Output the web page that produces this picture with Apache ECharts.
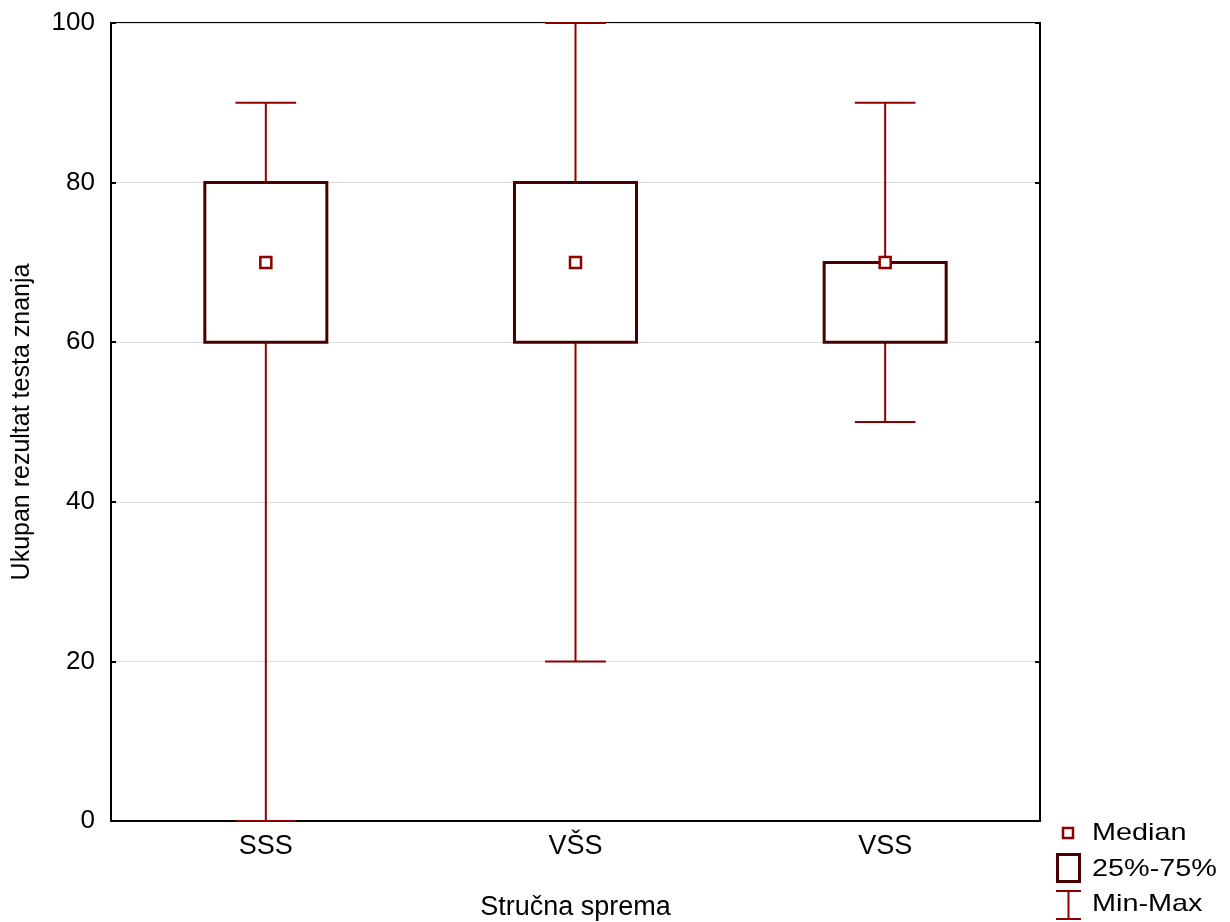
<!DOCTYPE html>
<html><head><meta charset="utf-8">
<script src="https://cdn.jsdelivr.net/npm/echarts@6/dist/echarts.min.js"></script>
<style>html,body{margin:0;padding:0;background:#fff}#c{width:1230px;height:922px}</style>
</head><body><div id="c"></div>
<script>
const categories = ['SSS', 'VŠS', 'VSS'];
const mins = [0, 20, 50];
const q1s = [60, 60, 60];
const medians = [70, 70, 70];
const q3s = [80, 80, 70];
const maxs = [90, 100, 90];
const yTicks = [0, 20, 40, 60, 80, 100];

const FONT = '"Liberation Sans", Arial, sans-serif';
const WHISK = '#8B0000';
const BOX = '#4A0000';

const data = categories.map((c, i) => [i, mins[i], q1s[i], medians[i], q3s[i], maxs[i]]);

const chart = echarts.init(document.getElementById('c'), null, {renderer: 'canvas'});
chart.setOption({
  animation: false,
  backgroundColor: '#fff',
  grid: {left: 111, right: 190, top: 23, bottom: 101, show: true, borderColor: '#000', borderWidth: 2,
    backgroundColor: 'transparent', containLabel: false, outerBoundsMode: 'none'},
  xAxis: {
    type: 'category', data: categories, boundaryGap: true,
    name: 'Stručna sprema', nameLocation: 'middle', nameGap: 73,
    nameTextStyle: {fontFamily: FONT, fontSize: 27, color: '#000'},
    axisLine: {show: true, lineStyle: {color: '#000', width: 2}},
    axisTick: {show: false},
    axisLabel: {fontFamily: FONT, fontSize: 27, color: '#000', margin: 12},
    splitLine: {show: false}
  },
  yAxis: [{
    type: 'value', min: 0, max: 100, interval: 20,
    name: 'Ukupan rezultat testa znanja', nameLocation: 'middle', nameGap: 76, nameRotate: 90,
    nameTextStyle: {fontFamily: FONT, fontSize: 25, color: '#000'},
    axisLine: {show: true, lineStyle: {color: '#000', width: 2}},
    axisTick: {show: true, inside: true, length: 5, lineStyle: {color: '#000', width: 2}},
    axisLabel: {fontFamily: FONT, fontSize: 26, color: '#000', margin: 16, padding: [0, 0, 8, 0],
      formatter: v => yTicks.includes(v) ? String(v) : ''},
    splitLine: {show: true, lineStyle: {color: '#dedede', width: 1}}
  }, {
    type: 'value', min: 0, max: 100, interval: 20, position: 'right',
    axisLine: {show: true, lineStyle: {color: '#000', width: 2}},
    axisTick: {show: true, inside: true, length: 5, lineStyle: {color: '#000', width: 2}},
    axisLabel: {show: false}, splitLine: {show: false}
  }],
  series: [{
    type: 'custom',
    data: data,
    encode: {x: 0, y: [1, 2, 3, 4, 5]},
    clip: false,
    renderItem: function (params, api) {
      const idx = api.value(0);
      const band = api.size([1, 0])[0];
      const boxW = band * 0.394;
      const capW = band * 0.196;
      const pMin = api.coord([idx, api.value(1)]);
      const pQ1 = api.coord([idx, api.value(2)]);
      const pMed = api.coord([idx, api.value(3)]);
      const pQ3 = api.coord([idx, api.value(4)]);
      const pMax = api.coord([idx, api.value(5)]);
      const x = pMed[0];
      const ws = {stroke: WHISK, lineWidth: 2, fill: null};
      return {
        type: 'group',
        children: [
          {type: 'line', shape: {x1: x, y1: pQ3[1], x2: x, y2: pMax[1]}, style: ws},
          {type: 'line', shape: {x1: x - capW / 2, y1: pMax[1], x2: x + capW / 2, y2: pMax[1]}, style: ws},
          {type: 'line', shape: {x1: x, y1: pQ1[1], x2: x, y2: pMin[1]}, style: ws},
          {type: 'line', shape: {x1: x - capW / 2, y1: pMin[1], x2: x + capW / 2, y2: pMin[1]}, style: ws},
          {type: 'rect', shape: {x: x - boxW / 2, y: pQ3[1], width: boxW, height: pQ1[1] - pQ3[1]},
            style: {fill: '#fff', stroke: BOX, lineWidth: 3}},
          {type: 'rect', shape: {x: x - 5.5, y: pMed[1] - 5.5, width: 11, height: 11},
            style: {fill: '#fff', stroke: WHISK, lineWidth: 2.5}}
        ]
      };
    }
  }],
  graphic: [
    {type: 'rect', shape: {x: 1063, y: 828, width: 10, height: 10}, style: {fill: '#fff', stroke: WHISK, lineWidth: 2.5}},
    {type: 'text', x: 1092, y: 821, scaleX: 1.2, style: {text: 'Median', font: '24px ' + FONT, fill: '#000'}},
    {type: 'rect', shape: {x: 1057.5, y: 854.5, width: 22, height: 27}, style: {fill: '#fff', stroke: BOX, lineWidth: 3}},
    {type: 'text', x: 1092, y: 857, scaleX: 1.2, style: {text: '25%-75%', font: '24px ' + FONT, fill: '#000'}},
    {type: 'line', shape: {x1: 1056, y1: 891, x2: 1081, y2: 891}, style: {stroke: WHISK, lineWidth: 2}},
    {type: 'line', shape: {x1: 1068.5, y1: 891, x2: 1068.5, y2: 919}, style: {stroke: WHISK, lineWidth: 2}},
    {type: 'line', shape: {x1: 1056, y1: 919, x2: 1081, y2: 919}, style: {stroke: WHISK, lineWidth: 2}},
    {type: 'text', x: 1092, y: 892, scaleX: 1.2, style: {text: 'Min-Max', font: '24px ' + FONT, fill: '#000'}}
  ]
});
</script>
</body></html>
